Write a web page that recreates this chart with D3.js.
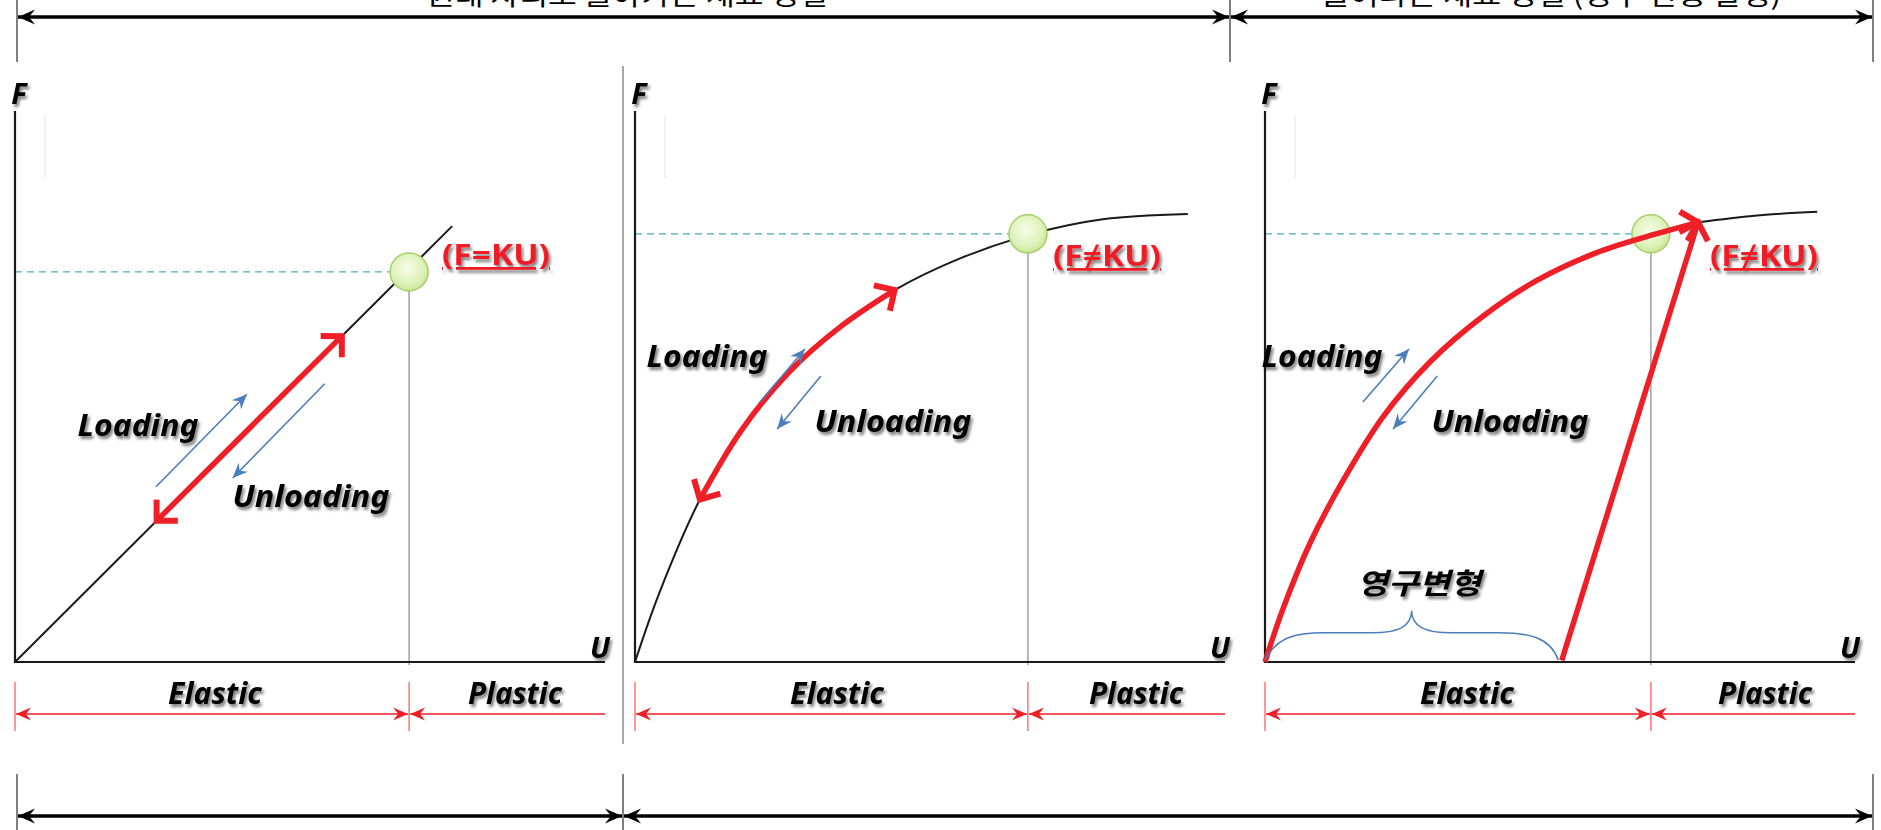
<!DOCTYPE html>
<html>
<head>
<meta charset="utf-8">
<script src="https://cdn.jsdelivr.net/npm/d3@7"></script>
<style>
html,body{margin:0;padding:0;background:#fff;overflow:hidden}
svg{display:block}
</style>
</head>
<body>
<svg id="chart" width="1881" height="830"></svg>
<script>
// ---------------- data ----------------
const topSpans = ["원래 자리로 돌아가는 재료 성질", "늘어나는 재료 성질 (영구 변형 발생)"];
const axisNames = ["F", "U"];
const zoneNames = ["Elastic", "Plastic"];
const flowNames = ["Loading", "Unloading"];
const lawLabels = ["(F=KU)", "(F≠KU)", "(F≠KU)"];
const permanentLabel = "영구변형";

// yield point of each panel (U, F in % of axis length)
const yieldU = [66.8, 66.6, 65.4];
const yieldF = [70.8, 77.7, 77.7];

// panel 1: linear spring
const linearCurve = [[0, 0], [74.1, 79.1]];
const linearRedSpan = [24.0, 55.4];               // U range of red double arrow
// panel 2: hardening curve
const hardeningCurve = [[0, 0], [4, 12.2], [11, 29.5], [18, 42], [26, 52.5], [35, 61], [44, 67.5],
                        [55, 73.2], [67, 77.6], [79, 80.3], [93.7, 81.3]];
const hardeningRed = [[11, 29.5], [18, 42], [26, 52.5], [35, 61], [44, 67.5]];
// panel 3: permanent deformation
const permLoadCurve = [[0, 0], [3, 9.5], [7.6, 21.5], [13, 32.5], [20, 44.5], [28, 54.5], [37, 62.8],
                       [46, 69.2], [56, 74.2], [66, 77.6], [73.4, 79.8]];
const permUnloadLine = [[50.3, 0.3], [73.4, 79.8]];
const permTail = [[73.4, 79.8], [83, 81.0], [93.6, 81.7]];
const braceSpan = [0, 49.7];

// small blue direction arrows [from, to] per panel
const loadArrows = [[[23.9, 31.8], [39.3, 48.6]], [[21.2, 47.2], [28.8, 56.8]], [[16.6, 47.2], [24.4, 56.8]]];
const unloadArrows = [[[52.5, 50.5], [36.9, 33.4]], [[31.5, 51.9], [24.1, 42.3]], [[29.2, 51.9], [21.7, 42.3]]];

// ---------------- layout ----------------
const LAYOUT = {
  panelX0: [15, 635, 1265], axisW: 590, axisTop: 111, axisBottom: 662,
  zoneY: 714, zoneTick: [682, 731], zoneTextY: 704,
  zoneTextX: [[215, 515], [837, 1136], [1467, 1765]],
  flowText: [[[138, 436], [311, 507]], [[707, 367], [893, 432]], [[1322, 367], [1510, 432]]],
  lawText: [[496, 265], [1107, 266], [1764, 266]],
  permText: [1419, 594],
  topY: 17, topTicks: [17, 1230, 1873], topTickY: [0, 62],
  botY: 816, botTicks: [17, 623, 1873], botTickY: [774, 830],
  topTextX: [627, 1551], topTextW: [402, 460], topTextY: 5,
  divider: {x: 623, y0: 66, y1: 744}
};
const RED = "#ef1f27", BLUE = "#4a7ebb";

// ---------------- drawing ----------------
const svg = d3.select("#chart");
const defs = svg.append("defs");

const flt = defs.append("filter").attr("id", "sh")
  .attr("x", "-20%").attr("y", "-40%").attr("width", "150%").attr("height", "190%");
flt.append("feDropShadow").attr("dx", 2).attr("dy", 3).attr("stdDeviation", 1.8)
  .attr("flood-color", "#000").attr("flood-opacity", 0.5);

const rg = defs.append("radialGradient").attr("id", "yg").attr("cx", "45%").attr("cy", "40%").attr("r", "62%");
rg.append("stop").attr("offset", "0%").attr("stop-color", "#f7fde8");
rg.append("stop").attr("offset", "70%").attr("stop-color", "#ddf1b8");
rg.append("stop").attr("offset", "100%").attr("stop-color", "#c6e591");

function marker(id, d, fill, stroke, sw, size) {
  defs.append("marker").attr("id", id)
    .attr("viewBox", `${-size} ${-size} ${size * 2} ${size * 2}`)
    .attr("markerUnits", "userSpaceOnUse")
    .attr("markerWidth", size * 2).attr("markerHeight", size * 2)
    .attr("refX", 0).attr("refY", 0)
    .attr("orient", "auto-start-reverse")
    .append("path").attr("d", d)
    .attr("fill", fill).attr("stroke", stroke).attr("stroke-width", sw)
    .attr("stroke-linejoin", "miter").attr("stroke-miterlimit", 10);
}
marker("mBlack", "M0,0 L-17,-7.5 L-11,0 L-17,7.5 Z", "#000", "none", 0, 22);
marker("mBlue", "M0,0 L-15,-6.5 L-10,0 L-15,6.5 Z", BLUE, "none", 0, 22);
marker("mRedThin", "M0,0 L-15,-6.5 L-10,0 L-15,6.5 Z", RED, "none", 0, 22);
marker("mRedBig", "M-15,-15 L0,0 L-15,15", "none", RED, 6, 26);

// top and bottom dimension arrows
function dimArrow(y, x0, x1) {
  svg.append("line").attr("x1", x0).attr("x2", x1).attr("y1", y).attr("y2", y)
    .attr("stroke", "#000").attr("stroke-width", 3.5)
    .attr("marker-start", "url(#mBlack)").attr("marker-end", "url(#mBlack)");
}
LAYOUT.topTicks.forEach(x => svg.append("line").attr("x1", x).attr("x2", x)
  .attr("y1", LAYOUT.topTickY[0]).attr("y2", LAYOUT.topTickY[1]).attr("stroke", "#000").attr("stroke-width", 1));
LAYOUT.botTicks.forEach(x => svg.append("line").attr("x1", x).attr("x2", x)
  .attr("y1", LAYOUT.botTickY[0]).attr("y2", LAYOUT.botTickY[1]).attr("stroke", "#000").attr("stroke-width", 1));
for (let i = 0; i < LAYOUT.topTicks.length - 1; i++) dimArrow(LAYOUT.topY, LAYOUT.topTicks[i] + 1, LAYOUT.topTicks[i + 1] - 1);
for (let i = 0; i < LAYOUT.botTicks.length - 1; i++) dimArrow(LAYOUT.botY, LAYOUT.botTicks[i] + 1, LAYOUT.botTicks[i + 1] - 1);

topSpans.forEach((t, i) => {
  svg.append("text").attr("x", LAYOUT.topTextX[i]).attr("y", LAYOUT.topTextY)
    .attr("text-anchor", "middle").attr("font-family", "'Noto Sans CJK KR', sans-serif")
    .attr("font-size", 26).attr("fill", "#000")
    .attr("textLength", LAYOUT.topTextW[i]).attr("lengthAdjust", "spacingAndGlyphs")
    .text(t);
});

// panel divider
svg.append("line").attr("x1", LAYOUT.divider.x).attr("x2", LAYOUT.divider.x)
  .attr("y1", LAYOUT.divider.y0).attr("y2", LAYOUT.divider.y1)
  .attr("stroke", "#a8a8a8").attr("stroke-width", 2);

function shadowText(g, txt, x, y, o) {
  const t = g.append("text").attr("x", x).attr("y", y).attr("text-anchor", "middle")
    .attr("font-family", o.family || "'Noto Sans', sans-serif")
    .attr("font-weight", o.weight || 700)
    .attr("font-style", o.style || "italic")
    .attr("font-size", o.size).attr("fill", o.fill || "#000")
    .attr("filter", "url(#sh)").text(txt);
  if (o.width) t.attr("textLength", o.width).attr("lengthAdjust", "spacingAndGlyphs");
  if (o.underline) t.attr("text-decoration", "underline");
  return t;
}

for (let p = 0; p < 3; p++) {
  const x0 = LAYOUT.panelX0[p];
  const x = d3.scaleLinear().domain([0, 100]).range([x0, x0 + LAYOUT.axisW]);
  const y = d3.scaleLinear().domain([0, 100]).range([LAYOUT.axisBottom, LAYOUT.axisTop]);
  const g = svg.append("g");
  const line = d3.line().x(d => x(d[0])).y(d => y(d[1]));
  const smooth = d3.line().x(d => x(d[0])).y(d => y(d[1])).curve(d3.curveCatmullRom.alpha(0.5));

  // faint artifact line
  g.append("line").attr("x1", x0 + 30).attr("x2", x0 + 30).attr("y1", 115).attr("y2", 178)
    .attr("stroke", "#eeeeee").attr("stroke-width", 1.5);

  // guide lines
  g.append("line").attr("x1", x(0)).attr("x2", x(yieldU[p])).attr("y1", y(yieldF[p])).attr("y2", y(yieldF[p]))
    .attr("stroke", "#4bacc6").attr("stroke-width", 1.3).attr("stroke-dasharray", "7,5");
  g.append("line").attr("x1", x(yieldU[p])).attr("x2", x(yieldU[p])).attr("y1", y(yieldF[p])).attr("y2", y(0) + 3)
    .attr("stroke", "#a0a0a0").attr("stroke-width", 1.5);

  // axes
  g.append("path").attr("d", line([[0, 100], [0, 0], [100, 0]]))
    .attr("fill", "none").attr("stroke", "#1a1a1a").attr("stroke-width", 2.2);

  // black curves
  if (p === 0) g.append("path").attr("d", line(linearCurve)).attr("fill", "none").attr("stroke", "#1a1a1a").attr("stroke-width", 2);
  if (p === 1) g.append("path").attr("d", smooth(hardeningCurve)).attr("fill", "none").attr("stroke", "#1a1a1a").attr("stroke-width", 2);
  if (p === 2) g.append("path").attr("d", smooth(permTail)).attr("fill", "none").attr("stroke", "#1a1a1a").attr("stroke-width", 2);

  // yield circle
  g.append("circle").attr("cx", x(yieldU[p])).attr("cy", y(yieldF[p])).attr("r", 19)
    .attr("fill", "url(#yg)").attr("stroke", "#a6d06a").attr("stroke-width", 1.5);

  // red paths
  if (p === 0) {
    const k = d3.scaleLinear().domain([linearCurve[0][0], linearCurve[1][0]]).range([linearCurve[0][1], linearCurve[1][1]]);
    g.append("path").attr("d", line(linearRedSpan.map(u => [u, k(u)])))
      .attr("fill", "none").attr("stroke", RED).attr("stroke-width", 5.5)
      .attr("marker-start", "url(#mRedBig)").attr("marker-end", "url(#mRedBig)");
  }
  if (p === 1) {
    g.append("path").attr("d", smooth(hardeningRed))
      .attr("fill", "none").attr("stroke", RED).attr("stroke-width", 5.5)
      .attr("marker-start", "url(#mRedBig)").attr("marker-end", "url(#mRedBig)");
  }
  if (p === 2) {
    g.append("path").attr("d", smooth(permLoadCurve))
      .attr("fill", "none").attr("stroke", RED).attr("stroke-width", 5.5)
      .attr("marker-end", "url(#mRedBig)");
    g.append("path").attr("d", line(permUnloadLine))
      .attr("fill", "none").attr("stroke", RED).attr("stroke-width", 5.5)
      .attr("marker-end", "url(#mRedBig)");
    // brace
    const bx0 = x(braceSpan[0]), bx1 = x(braceSpan[1]), bc = (bx0 + bx1) / 2;
    const yb = y(0) - 2, ym = y(5.3), yt = y(9.3);
    const bp = d3.path();
    bp.moveTo(bx0, yb);
    bp.bezierCurveTo(bx0 + 12, ym + 4, bx0 + 30, ym, bx0 + 60, ym);
    bp.lineTo(bc - 40, ym);
    bp.bezierCurveTo(bc - 14, ym, bc, ym - 6, bc, yt);
    bp.bezierCurveTo(bc, ym - 6, bc + 14, ym, bc + 40, ym);
    bp.lineTo(bx1 - 60, ym);
    bp.bezierCurveTo(bx1 - 30, ym, bx1 - 8, ym + 4, bx1, yb);
    g.append("path").attr("d", bp.toString()).attr("fill", "none").attr("stroke", BLUE).attr("stroke-width", 1.5);
    shadowText(g, permanentLabel, LAYOUT.permText[0], LAYOUT.permText[1],
      {family: "'Noto Sans CJK KR', sans-serif", size: 29, width: 124});
  }

  // blue direction arrows
  [loadArrows[p], unloadArrows[p]].forEach(a => {
    g.append("path").attr("d", line(a)).attr("fill", "none").attr("stroke", BLUE).attr("stroke-width", 1.6)
      .attr("marker-end", "url(#mBlue)");
  });

  // elastic / plastic dimension
  const zy = LAYOUT.zoneY;
  [x(0), x(yieldU[p])].forEach(xx => g.append("line").attr("x1", xx).attr("x2", xx)
    .attr("y1", LAYOUT.zoneTick[0]).attr("y2", LAYOUT.zoneTick[1]).attr("stroke", "#ff6060").attr("stroke-width", 1.3));
  g.append("line").attr("x1", x(0) + 1).attr("x2", x(yieldU[p]) - 1).attr("y1", zy).attr("y2", zy)
    .attr("stroke", RED).attr("stroke-width", 1.5)
    .attr("marker-start", "url(#mRedThin)").attr("marker-end", "url(#mRedThin)");
  g.append("line").attr("x1", x(100)).attr("x2", x(yieldU[p]) + 1).attr("y1", zy).attr("y2", zy)
    .attr("stroke", RED).attr("stroke-width", 1.5)
    .attr("marker-end", "url(#mRedThin)");

  // texts
  shadowText(g, axisNames[0], x(0) + 4, 104, {size: 29});
  shadowText(g, axisNames[1], x(100) - 5, 658, {size: 29});
  shadowText(g, zoneNames[0], LAYOUT.zoneTextX[p][0], LAYOUT.zoneTextY, {size: 30, width: 94});
  shadowText(g, zoneNames[1], LAYOUT.zoneTextX[p][1], LAYOUT.zoneTextY, {size: 30, width: 94});
  shadowText(g, flowNames[0], LAYOUT.flowText[p][0][0], LAYOUT.flowText[p][0][1], {size: 30, width: 121});
  shadowText(g, flowNames[1], LAYOUT.flowText[p][1][0], LAYOUT.flowText[p][1][1], {size: 30, width: 157});
  shadowText(g, lawLabels[p], LAYOUT.lawText[p][0], LAYOUT.lawText[p][1],
    {size: 28, width: 108, style: "normal", fill: RED, underline: true});
}
</script>
</body>
</html>
